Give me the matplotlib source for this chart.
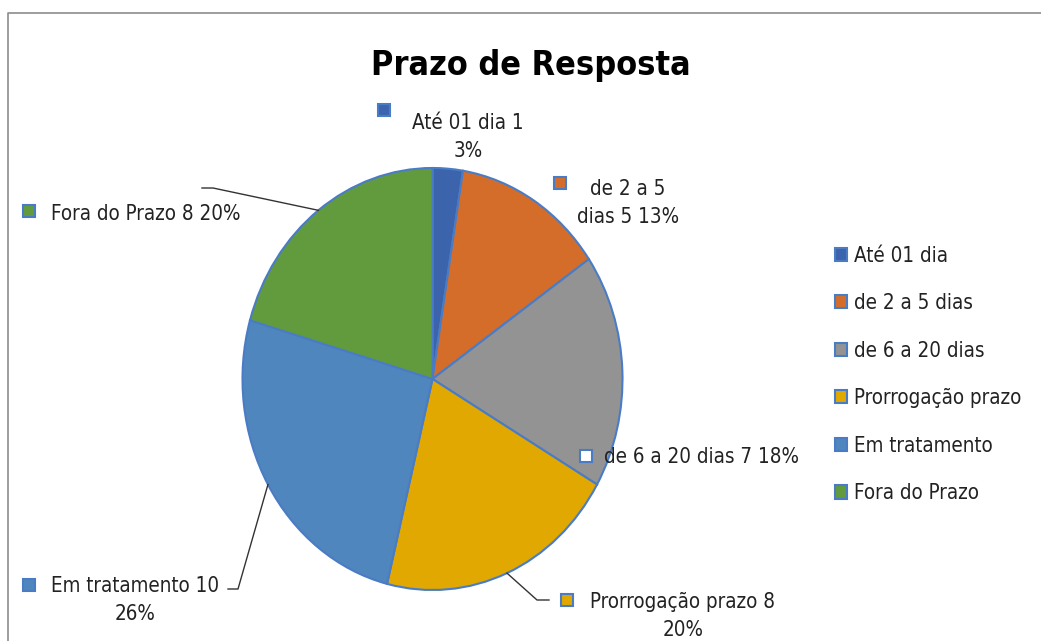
import numpy as np
import matplotlib
matplotlib.use("Agg")
import matplotlib.pyplot as plt
from matplotlib.patches import Rectangle

# data
categories = ["Até 01 dia", "de 2 a 5 dias", "de 6 a 20 dias",
              "Prorrogação prazo", "Em tratamento", "Fora do Prazo"]
values = [1, 5, 7, 8, 10, 8]
percents = [3, 13, 18, 20, 26, 20]
colors = ["#3B64AD", "#D46D2A", "#939393", "#E0A800", "#4F86BD", "#629B3E"]
edge = "#4A7CC6"

plt.rcParams["font.family"] = ["DejaVu Sans"]
plt.rcParams["font.stretch"] = "condensed"

W, H = 1041, 641
fig = plt.figure(figsize=(W / 100, H / 100), dpi=100)

# pie axes (stretched ellipse like the original)
cx, cy, rx, ry = 432.5, 379, 190, 211
ax = fig.add_axes([(cx - rx) / W, (H - cy - ry) / H, 2 * rx / W, 2 * ry / H])
wedges, _ = ax.pie(values, colors=colors, startangle=90, counterclock=False,
                   wedgeprops=dict(edgecolor=edge, linewidth=1.5))
ax.set_aspect("auto")
ax.set_xlim(-1, 1)
ax.set_ylim(-1, 1)
ax.axis("off")

# overlay in pixel coords for labels, leader lines and frame
ov = fig.add_axes([0, 0, 1, 1], zorder=-1)
ov.set_xlim(0, W)
ov.set_ylim(H, 0)
ov.axis("off")
ov.plot([8, 8, W], [H, 13, 13], color="#8C8C8C", lw=1.2)

ov2 = fig.add_axes([0, 0, 1, 1], zorder=5)
ov2.set_xlim(0, W)
ov2.set_ylim(H, 0)
ov2.axis("off")

fig.text(531 / W, 1 - 66 / H, "Prazo de Resposta", ha="center", va="center",
         fontsize=24.5, fontweight="bold")

# label layout: text center, marker center, words before line break
lab_pos = [(468, 137), (628, 203), (702, 457), (683, 616), (135, 600), (146, 214)]
mark_pos = [(384, 110), (560, 183), (586, 456), (567, 600), (29, 585), (29, 211)]
breaks = [4, 4, 0, 3, 3, 0]
elbows = {3: [(537, 600), (549, 600)], 4: [(238, 589), (228, 589)],
          5: [(213, 188), (202, 188)]}

fs = 14.8
for i, (cat, v, p) in enumerate(zip(categories, values, percents)):
    words = f"{cat} {v} {p}%".split()
    b = breaks[i]
    txt = " ".join(words) if b == 0 else " ".join(words[:b]) + "\n" + " ".join(words[b:])
    ov2.text(lab_pos[i][0], lab_pos[i][1], txt, ha="center", va="center",
             fontsize=fs, color="#222222", linespacing=1.55)
    fc = "white" if i == 2 else colors[i]
    mx, my = mark_pos[i]
    ov2.add_patch(Rectangle((mx - 6, my - 6), 12, 12, facecolor=fc,
                            edgecolor=edge, lw=1.5))
    if i in elbows:
        w = wedges[i]
        mid = np.deg2rad((w.theta1 + w.theta2) / 2)
        px, py = ax.transData.transform((np.cos(mid), np.sin(mid)))
        pts = [(px, H - py)] + elbows[i]
        ov2.plot([q[0] for q in pts], [q[1] for q in pts], color="#333333", lw=1)

fig.legend(wedges, categories, loc="upper left",
           bbox_to_anchor=(816 / W, 1 - 227 / H), frameon=False,
           fontsize=fs, handlelength=0.6, handleheight=0.6,
           handletextpad=0.35, labelspacing=1.34, labelcolor="#222222")

fig.savefig("out.png", dpi=100)
